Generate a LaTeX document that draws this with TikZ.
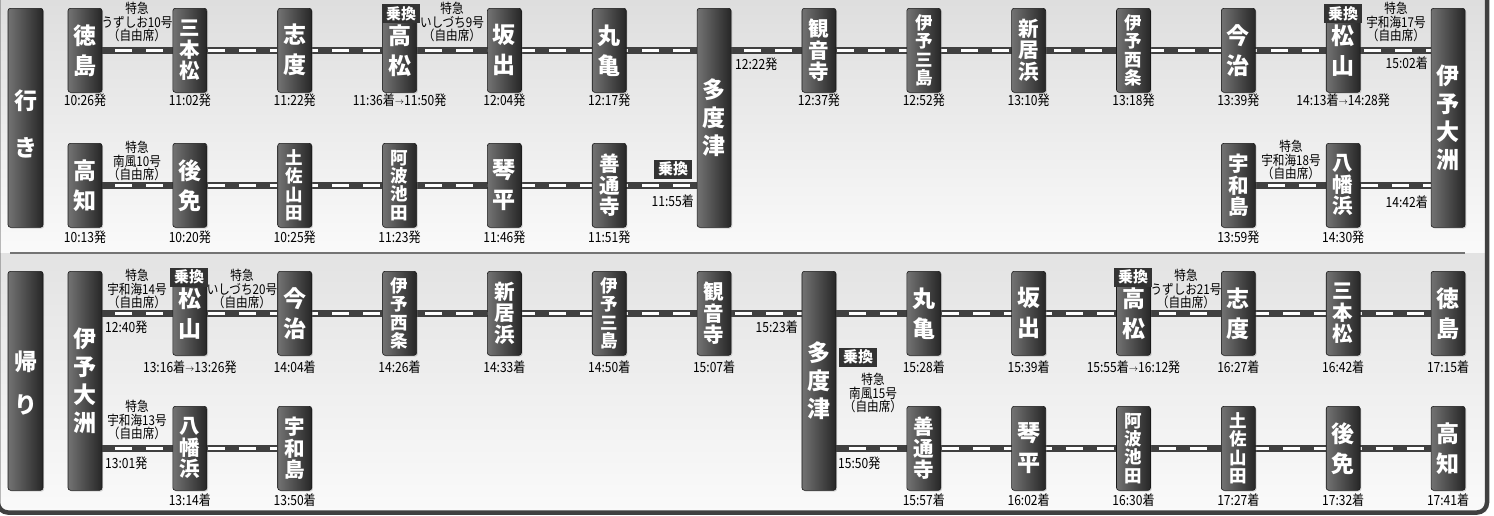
\documentclass[tikz,border=0pt]{standalone}
\usepackage{fontspec}
\setmainfont{Noto Sans CJK JP}
\newfontfamily\cond[FakeStretch=0.86]{Noto Sans CJK JP}
\usetikzlibrary{shadows}
\pgfdeclarelayer{bg}
\pgfsetlayers{bg,main}
\newcommand\tarr{\raisebox{0.5pt}{\fontsize{9}{9}\selectfont$\rightarrow$}}
\newcommand\stn[7]{\node[#1] (#2) at ({85+104.85*#3},#4) {#5};
  \node[tm] (#2t) at ({85+104.85*#3},#6) {#7};}
\begin{document}
\begin{tikzpicture}[x=1pt,y=-1pt,
  stbox/.style={draw=black!90, line width=0.6pt, rounded corners=2.5pt,
    left color=black!55, right color=black!85, minimum width=34pt,
    minimum height=84pt, inner sep=0pt, text=white, align=center, anchor=north,
    drop shadow={shadow xshift=1.2pt, shadow yshift=-1.2pt, opacity=0.3}},
  s2/.style={stbox, font=\fontsize{23}{30}\selectfont\bfseries},
  s3/.style={stbox, font=\fontsize{20.5}{21.5}\selectfont\bfseries},
  s4/.style={stbox, font=\fontsize{17.5}{18.4}\selectfont\bfseries},
  big/.style={stbox, minimum height=219pt, font=\fontsize{23}{28}\selectfont\bfseries},
  tm/.style={font=\cond\fontsize{14}{14}\selectfont, inner sep=0pt},
  lbl/.style={font=\cond\fontsize{13.5}{13.5}\selectfont, align=center, inner sep=0pt},
  tag/.style={fill=black!80, text=white, font=\fontsize{15}{15}\selectfont\bfseries,
    inner sep=1.5pt, minimum width=38pt, minimum height=19pt},
  rail/.style={line width=6.5pt, draw=black!75,
    postaction={draw=white, line width=2.6pt, dash pattern=on 17pt off 14pt, dash phase=1pt}},
  big title/.style={font=\fontsize{23}{47}\selectfont\bfseries, text=white, align=center, inner sep=0pt}
]
\useasboundingbox (0,0) rectangle (1494,515);

% direction labels
\node[stbox, minimum width=35pt, minimum height=219pt] (go) at (25.5,8) {};
\node[big title] (gotxt) at (25.5,123.5) {行\\き};
\node[stbox, minimum width=35pt, minimum height=219pt] (ret) at (25.5,271) {};
\node[big title, font=\fontsize{23}{43}\selectfont\bfseries] (rettxt) at (25.5,383.5) {帰\\り};

% Row 1
\stn{s2}{a0}{0}{8}{徳\\島}{100}{10:26発}
\stn{s3}{a1}{1}{8}{三\\本\\松}{100}{11:02発}
\stn{s2}{a2}{2}{8}{志\\度}{100}{11:22発}
\stn{s2}{a3}{3}{8}{高\\松}{100}{11:36着\tarr 11:50発}
\stn{s2}{a4}{4}{8}{坂\\出}{100}{12:04発}
\stn{s2}{a5}{5}{8}{丸\\亀}{100}{12:17発}
\node[big] (T1) at ({85+104.85*6},8) {多\\度\\津};
\stn{s3}{a7}{7}{8}{観\\音\\寺}{100}{12:37発}
\stn{s4}{a8}{8}{8}{伊\\予\\三\\島}{100}{12:52発}
\stn{s3}{a9}{9}{8}{新\\居\\浜}{100}{13:10発}
\stn{s4}{a10}{10}{8}{伊\\予\\西\\条}{100}{13:18発}
\stn{s2}{a11}{11}{8}{今\\治}{100}{13:39発}
\stn{s2}{a12}{12}{8}{松\\山}{100}{14:13着\tarr 14:28発}
\node[big] (O1) at ({85+104.85*13},8) {伊\\予\\大\\洲};

% Row 2
\stn{s2}{b0}{0}{143}{高\\知}{237}{10:13発}
\stn{s2}{b1}{1}{143}{後\\免}{237}{10:20発}
\stn{s4}{b2}{2}{143}{土\\佐\\山\\田}{237}{10:25発}
\stn{s4}{b3}{3}{143}{阿\\波\\池\\田}{237}{11:23発}
\stn{s2}{b4}{4}{143}{琴\\平}{237}{11:46発}
\stn{s3}{b5}{5}{143}{善\\通\\寺}{237}{11:51発}
\stn{s3}{b11}{11}{143}{宇\\和\\島}{237}{13:59発}
\stn{s3}{b12}{12}{143}{八\\幡\\浜}{237}{14:30発}

% Row 3
\node[big] (O2) at (85,271) {伊\\予\\大\\洲};
\stn{s2}{c1}{1}{271}{松\\山}{367}{13:16着\tarr 13:26発}
\stn{s2}{c2}{2}{271}{今\\治}{367}{14:04着}
\stn{s4}{c3}{3}{271}{伊\\予\\西\\条}{367}{14:26着}
\stn{s3}{c4}{4}{271}{新\\居\\浜}{367}{14:33着}
\stn{s4}{c5}{5}{271}{伊\\予\\三\\島}{367}{14:50着}
\stn{s3}{c6}{6}{271}{観\\音\\寺}{367}{15:07着}
\node[big] (T2) at ({85+104.85*7},271) {多\\度\\津};
\stn{s2}{c8}{8}{271}{丸\\亀}{367}{15:28着}
\stn{s2}{c9}{9}{271}{坂\\出}{367}{15:39着}
\stn{s2}{c10}{10}{271}{高\\松}{367}{15:55着\tarr 16:12発}
\stn{s2}{c11}{11}{271}{志\\度}{367}{16:27着}
\stn{s3}{c12}{12}{271}{三\\本\\松}{367}{16:42着}
\stn{s2}{c13}{13}{271}{徳\\島}{367}{17:15着}

% Row 4
\stn{s3}{d1}{1}{406}{八\\幡\\浜}{500}{13:14着}
\stn{s3}{d2}{2}{406}{宇\\和\\島}{500}{13:50着}
\stn{s3}{d8}{8}{406}{善\\通\\寺}{500}{15:57着}
\stn{s2}{d9}{9}{406}{琴\\平}{500}{16:02着}
\stn{s4}{d10}{10}{406}{阿\\波\\池\\田}{500}{16:30着}
\stn{s4}{d11}{11}{406}{土\\佐\\山\\田}{500}{17:27着}
\stn{s2}{d12}{12}{406}{後\\免}{500}{17:32着}
\stn{s2}{d13}{13}{406}{高\\知}{500}{17:41着}

% extra times
\node[tm, anchor=west] (x1) at (735,64) {12:22発};
\node[tm, anchor=east] (x2) at (1428,63) {15:02着};
\node[tm, anchor=east] (x3) at (694,201) {11:55着};
\node[tm, anchor=east] (x4) at (1428,202) {14:42着};
\node[tm, anchor=west] (x5) at (105,327) {12:40発};
\node[tm, anchor=east] (x6) at (798,327) {15:23着};
\node[tm, anchor=west] (x7) at (105,463) {13:01発};
\node[tm, anchor=west] (x8) at (838,463) {15:50発};

% transfer tags
\node[tag] (k1) at (401,13.5) {乗換};
\node[tag] (k2) at (1343,13.5) {乗換};
\node[tag] (k3) at (673,169) {乗換};
\node[tag] (k4) at (189,277) {乗換};
\node[tag] (k5) at (1133,277) {乗換};
\node[tag] (k6) at (858,357) {乗換};

% train labels
\node[lbl] (L1) at (137,22) {特急\\うずしお10号\\（自由席）};
\node[lbl] (L2) at (452,22) {特急\\いしづち9号\\（自由席）};
\node[lbl] (L3) at (1396,22) {特急\\宇和海17号\\（自由席）};
\node[lbl] (L4) at (137,161) {特急\\南風10号\\（自由席）};
\node[lbl] (L5) at (1291,160) {特急\\宇和海18号\\（自由席）};
\node[lbl] (L6) at (137,289) {特急\\宇和海14号\\（自由席）};
\node[lbl] (L7) at (242,289) {特急\\いしづち20号\\（自由席）};
\node[lbl] (L8) at (1186,289) {特急\\うずしお21号\\（自由席）};
\node[lbl] (L9) at (137,420) {特急\\宇和海13号\\（自由席）};
\node[lbl] (L10) at (873,393) {特急\\南風15号\\（自由席）};

\begin{pgfonlayer}{bg}
  \fill[white] (0,0) rectangle (1494,515);
  \shade[top color=black!13, bottom color=black!2] (0,0) rectangle (1487,253);
  \shade[top color=black!11, bottom color=black!2] (0,253) rectangle (1487,512);
  \draw[black!55, line width=1.5pt] (10,253) -- (1465,253);
  \draw[rail] (a0.center) -- (a0.center -| T1.center);
  \draw[rail] (a7.center -| T1.center) -- (a7.center -| O1.center);
  \draw[rail] (b0.center) -- (b0.center -| T1.center);
  \draw[rail] (b11.center) -- (b11.center -| O1.center);
  \draw[rail] (c1.center -| O2.center) -- (c1.center -| T2.center);
  \draw[rail] (c8.center -| T2.center) -- (c13.center);
  \draw[rail] (d1.center -| O2.center) -- (d2.center);
  \draw[rail] (d8.center -| T2.center) -- (d13.center);
\end{pgfonlayer}

\draw[black!75, line width=4.5pt, rounded corners=10pt] (-2,-12) rectangle (1487,512.5);
\end{tikzpicture}
\end{document}
